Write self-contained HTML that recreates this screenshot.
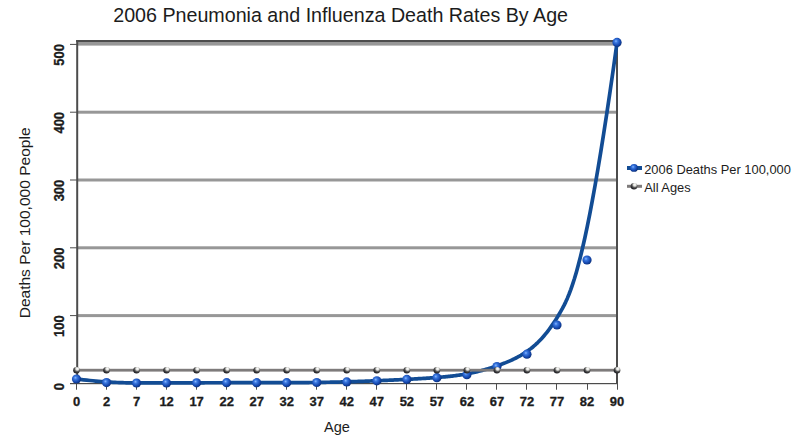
<!DOCTYPE html>
<html><head><meta charset="utf-8"><style>
html,body{margin:0;padding:0;background:#fff;width:800px;height:446px;overflow:hidden}
svg{display:block}
text{font-family:"Liberation Sans",sans-serif;fill:#1c1c1c}
</style></head><body>
<svg width="800" height="446" viewBox="0 0 800 446">
<defs>
<radialGradient id="bb" cx="0.42" cy="0.4" r="0.7" fx="0.38" fy="0.36">
<stop offset="0" stop-color="#8ab8ff"/><stop offset="0.25" stop-color="#3a78e0"/><stop offset="0.65" stop-color="#1446ac"/><stop offset="1" stop-color="#072660"/>
</radialGradient>
<radialGradient id="gb" cx="0.62" cy="0.3" r="0.75" fx="0.62" fy="0.28">
<stop offset="0" stop-color="#ffffff"/><stop offset="0.28" stop-color="#e0e0dc"/><stop offset="0.55" stop-color="#5a5a5a"/><stop offset="0.8" stop-color="#2a2a2e"/><stop offset="1" stop-color="#18181f"/>
</radialGradient>
</defs>
<rect width="800" height="446" fill="#fff"/>

<text font-size="19.5" text-anchor="middle" transform="translate(340.6 21.7) scale(1.009 1)">2006 Pneumonia and Influenza Death Rates By Age</text>
<rect x="78" y="314.10" width="539" height="3" fill="#979797"/>
<rect x="78" y="246.30" width="539" height="3" fill="#979797"/>
<rect x="78" y="178.50" width="539" height="3" fill="#979797"/>
<rect x="78" y="110.70" width="539" height="3" fill="#979797"/>
<rect x="78" y="42" width="539" height="3.6" fill="#979797"/>
<rect x="76.2" y="40" width="541.8" height="2" fill="#4c4c4c"/>
<rect x="76.2" y="40" width="2" height="344" fill="#4c4c4c"/>
<rect x="616" y="40" width="2" height="344" fill="#4c4c4c"/>
<rect x="70" y="383" width="548" height="1.2" fill="#4c4c4c"/>
<rect x="70" y="315.10" width="7" height="1" fill="#4c4c4c"/>
<rect x="70" y="247.30" width="7" height="1" fill="#4c4c4c"/>
<rect x="70" y="179.50" width="7" height="1" fill="#4c4c4c"/>
<rect x="70" y="111.70" width="7" height="1" fill="#4c4c4c"/>
<rect x="70" y="43.90" width="7" height="1" fill="#4c4c4c"/>
<rect x="76" y="384" width="1" height="5.7" fill="#4c4c4c"/>
<rect x="106" y="384" width="1" height="5.7" fill="#4c4c4c"/>
<rect x="136" y="384" width="1" height="5.7" fill="#4c4c4c"/>
<rect x="166" y="384" width="1" height="5.7" fill="#4c4c4c"/>
<rect x="196" y="384" width="1" height="5.7" fill="#4c4c4c"/>
<rect x="226" y="384" width="1" height="5.7" fill="#4c4c4c"/>
<rect x="256" y="384" width="1" height="5.7" fill="#4c4c4c"/>
<rect x="286" y="384" width="1" height="5.7" fill="#4c4c4c"/>
<rect x="316" y="384" width="1" height="5.7" fill="#4c4c4c"/>
<rect x="346" y="384" width="1" height="5.7" fill="#4c4c4c"/>
<rect x="376" y="384" width="1" height="5.7" fill="#4c4c4c"/>
<rect x="406" y="384" width="1" height="5.7" fill="#4c4c4c"/>
<rect x="436" y="384" width="1" height="5.7" fill="#4c4c4c"/>
<rect x="466" y="384" width="1" height="5.7" fill="#4c4c4c"/>
<rect x="496" y="384" width="1" height="5.7" fill="#4c4c4c"/>
<rect x="526" y="384" width="1" height="5.7" fill="#4c4c4c"/>
<rect x="556" y="384" width="1" height="5.7" fill="#4c4c4c"/>
<rect x="587" y="384" width="1" height="5.7" fill="#4c4c4c"/>
<rect x="617" y="384" width="1" height="5.7" fill="#4c4c4c"/>
<text font-size="13" font-weight="bold" stroke="#1c1c1c" stroke-width="0.3" text-anchor="end" transform="translate(63.8 383.10) scale(1.06 1) rotate(-90)">0</text>
<text font-size="13" font-weight="bold" stroke="#1c1c1c" stroke-width="0.3" text-anchor="end" transform="translate(63.8 315.30) scale(1.06 1) rotate(-90)">100</text>
<text font-size="13" font-weight="bold" stroke="#1c1c1c" stroke-width="0.3" text-anchor="end" transform="translate(63.8 247.50) scale(1.06 1) rotate(-90)">200</text>
<text font-size="13" font-weight="bold" stroke="#1c1c1c" stroke-width="0.3" text-anchor="end" transform="translate(63.8 179.70) scale(1.06 1) rotate(-90)">300</text>
<text font-size="13" font-weight="bold" stroke="#1c1c1c" stroke-width="0.3" text-anchor="end" transform="translate(63.8 111.90) scale(1.06 1) rotate(-90)">400</text>
<text font-size="13" font-weight="bold" stroke="#1c1c1c" stroke-width="0.3" text-anchor="end" transform="translate(63.8 44.10) scale(1.06 1) rotate(-90)">500</text>
<text x="0" y="0" font-size="12" font-weight="bold" stroke="#1c1c1c" stroke-width="0.3" text-anchor="middle" transform="translate(76.50 405.8) scale(1.08 1)">0</text>
<text x="0" y="0" font-size="12" font-weight="bold" stroke="#1c1c1c" stroke-width="0.3" text-anchor="middle" transform="translate(106.53 405.8) scale(1.08 1)">2</text>
<text x="0" y="0" font-size="12" font-weight="bold" stroke="#1c1c1c" stroke-width="0.3" text-anchor="middle" transform="translate(136.56 405.8) scale(1.08 1)">7</text>
<text x="0" y="0" font-size="12" font-weight="bold" stroke="#1c1c1c" stroke-width="0.3" text-anchor="middle" transform="translate(166.59 405.8) scale(1.08 1)">12</text>
<text x="0" y="0" font-size="12" font-weight="bold" stroke="#1c1c1c" stroke-width="0.3" text-anchor="middle" transform="translate(196.62 405.8) scale(1.08 1)">17</text>
<text x="0" y="0" font-size="12" font-weight="bold" stroke="#1c1c1c" stroke-width="0.3" text-anchor="middle" transform="translate(226.65 405.8) scale(1.08 1)">22</text>
<text x="0" y="0" font-size="12" font-weight="bold" stroke="#1c1c1c" stroke-width="0.3" text-anchor="middle" transform="translate(256.68 405.8) scale(1.08 1)">27</text>
<text x="0" y="0" font-size="12" font-weight="bold" stroke="#1c1c1c" stroke-width="0.3" text-anchor="middle" transform="translate(286.71 405.8) scale(1.08 1)">32</text>
<text x="0" y="0" font-size="12" font-weight="bold" stroke="#1c1c1c" stroke-width="0.3" text-anchor="middle" transform="translate(316.74 405.8) scale(1.08 1)">37</text>
<text x="0" y="0" font-size="12" font-weight="bold" stroke="#1c1c1c" stroke-width="0.3" text-anchor="middle" transform="translate(346.77 405.8) scale(1.08 1)">42</text>
<text x="0" y="0" font-size="12" font-weight="bold" stroke="#1c1c1c" stroke-width="0.3" text-anchor="middle" transform="translate(376.80 405.8) scale(1.08 1)">47</text>
<text x="0" y="0" font-size="12" font-weight="bold" stroke="#1c1c1c" stroke-width="0.3" text-anchor="middle" transform="translate(406.83 405.8) scale(1.08 1)">52</text>
<text x="0" y="0" font-size="12" font-weight="bold" stroke="#1c1c1c" stroke-width="0.3" text-anchor="middle" transform="translate(436.86 405.8) scale(1.08 1)">57</text>
<text x="0" y="0" font-size="12" font-weight="bold" stroke="#1c1c1c" stroke-width="0.3" text-anchor="middle" transform="translate(466.89 405.8) scale(1.08 1)">62</text>
<text x="0" y="0" font-size="12" font-weight="bold" stroke="#1c1c1c" stroke-width="0.3" text-anchor="middle" transform="translate(496.92 405.8) scale(1.08 1)">67</text>
<text x="0" y="0" font-size="12" font-weight="bold" stroke="#1c1c1c" stroke-width="0.3" text-anchor="middle" transform="translate(526.95 405.8) scale(1.08 1)">72</text>
<text x="0" y="0" font-size="12" font-weight="bold" stroke="#1c1c1c" stroke-width="0.3" text-anchor="middle" transform="translate(556.98 405.8) scale(1.08 1)">77</text>
<text x="0" y="0" font-size="12" font-weight="bold" stroke="#1c1c1c" stroke-width="0.3" text-anchor="middle" transform="translate(587.01 405.8) scale(1.08 1)">82</text>
<text x="0" y="0" font-size="12" font-weight="bold" stroke="#1c1c1c" stroke-width="0.3" text-anchor="middle" transform="translate(617.04 405.8) scale(1.08 1)">90</text>
<text font-size="14" text-anchor="middle" transform="translate(337 432.2) scale(1.04 1)">Age</text>
<text font-size="14.5" text-anchor="middle" transform="translate(29.8 222.9) rotate(-90) scale(1.073 1)">Deaths Per 100,000 People</text>
<polyline points="76.50,379.00 80.04,379.42 83.44,379.80 86.71,380.16 89.84,380.48 92.85,380.78 95.74,381.05 98.52,381.30 101.18,381.52 103.73,381.72 106.19,381.90 108.55,382.06 110.82,382.20 113.00,382.32 115.09,382.43 117.11,382.52 119.06,382.60 120.95,382.66 122.76,382.72 124.53,382.76 126.23,382.79 127.89,382.82 129.51,382.84 131.09,382.86 132.64,382.87 134.15,382.88 135.64,382.89 137.11,382.90 138.56,382.91 139.98,382.92 141.39,382.92 142.78,382.93 144.14,382.93 145.49,382.93 146.83,382.93 148.15,382.93 149.45,382.94 150.74,382.94 152.02,382.94 153.29,382.93 154.54,382.93 155.79,382.93 157.03,382.93 158.26,382.93 159.48,382.92 160.70,382.92 161.91,382.92 163.12,382.91 164.33,382.91 165.54,382.90 166.74,382.90 167.94,382.90 169.15,382.89 170.35,382.89 171.56,382.88 172.76,382.88 173.97,382.88 175.17,382.87 176.37,382.87 177.58,382.86 178.78,382.86 179.99,382.86 181.19,382.85 182.40,382.85 183.60,382.84 184.80,382.84 186.01,382.84 187.21,382.83 188.42,382.83 189.62,382.82 190.82,382.82 192.03,382.82 193.23,382.81 194.44,382.81 195.64,382.80 196.85,382.80 198.05,382.80 199.25,382.79 200.46,382.79 201.66,382.78 202.87,382.78 204.07,382.78 205.28,382.77 206.48,382.77 207.68,382.76 208.89,382.76 210.09,382.76 211.30,382.75 212.50,382.75 213.70,382.75 214.91,382.74 216.11,382.74 217.32,382.74 218.52,382.73 219.73,382.73 220.93,382.73 222.13,382.73 223.34,382.72 224.54,382.72 225.75,382.72 226.95,382.72 228.16,382.71 229.36,382.71 230.56,382.71 231.77,382.71 232.97,382.71 234.18,382.71 235.38,382.71 236.58,382.70 237.79,382.70 238.99,382.70 240.20,382.70 241.40,382.70 242.61,382.70 243.81,382.70 245.01,382.70 246.22,382.70 247.42,382.70 248.63,382.70 249.83,382.70 251.04,382.70 252.24,382.70 253.44,382.70 254.65,382.70 255.85,382.70 257.06,382.70 258.26,382.70 259.46,382.70 260.67,382.70 261.87,382.70 263.08,382.70 264.28,382.70 265.49,382.70 266.69,382.70 267.89,382.70 269.10,382.70 270.30,382.70 271.51,382.70 272.71,382.69 273.92,382.69 275.12,382.69 276.32,382.69 277.53,382.69 278.73,382.69 279.94,382.68 281.14,382.68 282.34,382.68 283.55,382.68 284.75,382.67 285.96,382.67 287.16,382.67 288.37,382.66 289.57,382.66 290.77,382.65 291.98,382.65 293.18,382.64 294.39,382.63 295.59,382.63 296.80,382.62 298.00,382.61 299.20,382.61 300.41,382.60 301.61,382.59 302.82,382.58 304.02,382.57 305.22,382.56 306.43,382.55 307.63,382.54 308.84,382.53 310.04,382.51 311.25,382.50 312.45,382.49 313.65,382.47 314.86,382.46 316.06,382.44 317.27,382.43 318.47,382.41 319.68,382.39 320.88,382.37 322.08,382.36 323.29,382.34 324.49,382.32 325.70,382.30 326.90,382.27 328.10,382.25 329.31,382.23 330.51,382.21 331.72,382.18 332.92,382.16 334.13,382.13 335.33,382.11 336.53,382.08 337.74,382.05 338.94,382.02 340.15,381.99 341.35,381.96 342.56,381.93 343.76,381.90 344.96,381.87 346.17,381.83 347.37,381.80 348.58,381.76 349.78,381.73 350.98,381.69 352.19,381.66 353.39,381.62 354.60,381.58 355.80,381.54 357.01,381.50 358.21,381.46 359.41,381.42 360.62,381.37 361.82,381.33 363.03,381.29 364.23,381.24 365.44,381.20 366.64,381.15 367.84,381.11 369.05,381.06 370.25,381.02 371.46,380.97 372.66,380.92 373.86,380.87 375.07,380.82 376.27,380.77 377.48,380.72 378.68,380.67 379.89,380.62 381.09,380.57 382.29,380.52 383.50,380.46 384.70,380.41 385.91,380.36 387.11,380.30 388.32,380.25 389.52,380.19 390.72,380.14 391.93,380.08 393.13,380.03 394.34,379.97 395.54,379.91 396.74,379.85 397.95,379.80 399.15,379.74 400.36,379.68 401.56,379.62 402.77,379.56 403.97,379.50 405.17,379.44 406.38,379.37 407.58,379.31 408.79,379.25 409.99,379.18 411.20,379.12 412.40,379.06 413.60,378.99 414.81,378.92 416.01,378.86 417.22,378.79 418.42,378.72 419.62,378.65 420.83,378.58 422.03,378.51 423.24,378.43 424.44,378.36 425.65,378.28 426.85,378.20 428.05,378.12 429.26,378.04 430.46,377.96 431.67,377.87 432.87,377.78 434.08,377.70 435.28,377.61 436.48,377.51 437.69,377.42 438.89,377.32 440.10,377.22 441.30,377.12 442.50,377.01 443.71,376.91 444.91,376.79 446.12,376.68 447.32,376.56 448.53,376.44 449.73,376.31 450.93,376.17 452.14,376.04 453.34,375.89 454.55,375.74 455.75,375.59 456.96,375.43 458.16,375.26 459.36,375.09 460.57,374.91 461.77,374.72 462.98,374.53 464.18,374.33 465.38,374.12 466.59,373.91 467.79,373.68 469.00,373.45 470.20,373.21 471.41,372.96 472.61,372.70 473.81,372.44 475.02,372.16 476.22,371.88 477.43,371.59 478.63,371.30 479.84,370.99 481.04,370.68 482.24,370.36 483.45,370.04 484.65,369.70 485.86,369.36 487.06,369.01 488.26,368.66 489.47,368.29 490.67,367.92 491.88,367.54 493.08,367.16 494.29,366.77 495.49,366.37 496.69,365.96 497.90,365.55 499.10,365.13 500.31,364.70 501.51,364.26 502.72,363.81 503.92,363.35 505.12,362.88 506.33,362.40 507.53,361.90 508.74,361.39 509.94,360.87 511.14,360.32 512.35,359.77 513.55,359.19 514.76,358.60 515.96,357.99 517.17,357.36 518.37,356.71 519.57,356.03 520.78,355.34 521.98,354.62 523.19,353.88 524.39,353.11 525.60,352.32 526.80,351.50 528.00,350.66 529.21,349.78 530.42,348.88 531.63,347.93 532.84,346.95 534.06,345.92 535.28,344.85 536.51,343.72 537.75,342.55 539.00,341.31 540.25,340.02 541.52,338.66 542.80,337.24 544.09,335.75 545.39,334.18 546.71,332.54 548.05,330.82 549.40,329.01 550.76,327.12 552.15,325.14 553.56,323.07 554.98,320.90 556.43,318.63 557.90,316.25 559.39,313.78 560.90,311.18 562.45,308.41 564.03,305.40 565.65,302.08 567.31,298.39 569.01,294.25 570.78,289.61 572.59,284.39 574.48,278.53 576.43,271.96 578.45,264.61 580.54,256.41 582.72,247.30 584.99,237.22 587.35,226.08 589.81,213.83 592.36,200.41 595.02,185.73 597.80,169.74 600.69,152.36 603.70,133.54 606.83,113.20 610.10,91.27 613.50,67.70 617.04,42.40" fill="none" stroke="#124c94" stroke-width="3.7" stroke-linejoin="round" stroke-linecap="round"/>
<circle cx="76.50" cy="379.00" r="4.6" fill="url(#bb)"/>
<circle cx="106.53" cy="382.60" r="4.6" fill="url(#bb)"/>
<circle cx="136.56" cy="383.00" r="4.6" fill="url(#bb)"/>
<circle cx="166.59" cy="382.90" r="4.6" fill="url(#bb)"/>
<circle cx="196.62" cy="382.80" r="4.6" fill="url(#bb)"/>
<circle cx="226.65" cy="382.70" r="4.6" fill="url(#bb)"/>
<circle cx="256.68" cy="382.70" r="4.6" fill="url(#bb)"/>
<circle cx="286.71" cy="382.70" r="4.6" fill="url(#bb)"/>
<circle cx="316.74" cy="382.50" r="4.6" fill="url(#bb)"/>
<circle cx="346.77" cy="381.90" r="4.6" fill="url(#bb)"/>
<circle cx="376.80" cy="380.80" r="4.6" fill="url(#bb)"/>
<circle cx="406.83" cy="379.40" r="4.6" fill="url(#bb)"/>
<circle cx="436.86" cy="377.70" r="4.6" fill="url(#bb)"/>
<circle cx="466.89" cy="374.70" r="4.6" fill="url(#bb)"/>
<circle cx="496.92" cy="366.60" r="4.6" fill="url(#bb)"/>
<circle cx="526.95" cy="354.20" r="4.6" fill="url(#bb)"/>
<circle cx="556.98" cy="325.00" r="4.6" fill="url(#bb)"/>
<circle cx="587.01" cy="260.00" r="4.6" fill="url(#bb)"/>
<circle cx="617.04" cy="42.40" r="4.6" fill="url(#bb)"/>
<rect x="76.50" y="368.80" width="540.54" height="2.8" fill="#7e7b7b"/>
<circle cx="76.50" cy="370.2" r="3.3" fill="url(#gb)"/>
<circle cx="106.53" cy="370.2" r="3.3" fill="url(#gb)"/>
<circle cx="136.56" cy="370.2" r="3.3" fill="url(#gb)"/>
<circle cx="166.59" cy="370.2" r="3.3" fill="url(#gb)"/>
<circle cx="196.62" cy="370.2" r="3.3" fill="url(#gb)"/>
<circle cx="226.65" cy="370.2" r="3.3" fill="url(#gb)"/>
<circle cx="256.68" cy="370.2" r="3.3" fill="url(#gb)"/>
<circle cx="286.71" cy="370.2" r="3.3" fill="url(#gb)"/>
<circle cx="316.74" cy="370.2" r="3.3" fill="url(#gb)"/>
<circle cx="346.77" cy="370.2" r="3.3" fill="url(#gb)"/>
<circle cx="376.80" cy="370.2" r="3.3" fill="url(#gb)"/>
<circle cx="406.83" cy="370.2" r="3.3" fill="url(#gb)"/>
<circle cx="436.86" cy="370.2" r="3.3" fill="url(#gb)"/>
<circle cx="466.89" cy="370.2" r="3.3" fill="url(#gb)"/>
<circle cx="496.92" cy="370.2" r="3.3" fill="url(#gb)"/>
<circle cx="526.95" cy="370.2" r="3.3" fill="url(#gb)"/>
<circle cx="556.98" cy="370.2" r="3.3" fill="url(#gb)"/>
<circle cx="587.01" cy="370.2" r="3.3" fill="url(#gb)"/>
<circle cx="617.04" cy="370.2" r="3.3" fill="url(#gb)"/>
<rect x="627" y="166" width="15" height="4" fill="#124c94"/>
<circle cx="634" cy="167.9" r="3.9" fill="url(#bb)"/>
<rect x="627" y="184.8" width="15" height="3" fill="#7e7b7b"/>
<circle cx="634" cy="186.2" r="3.3" fill="url(#gb)"/>
<text font-size="12" transform="translate(644.2 173.7) scale(1.073 1)">2006 Deaths Per 100,000</text>
<text font-size="12" transform="translate(644.2 192.2) scale(1.073 1)">All Ages</text>
</svg>
</body></html>
